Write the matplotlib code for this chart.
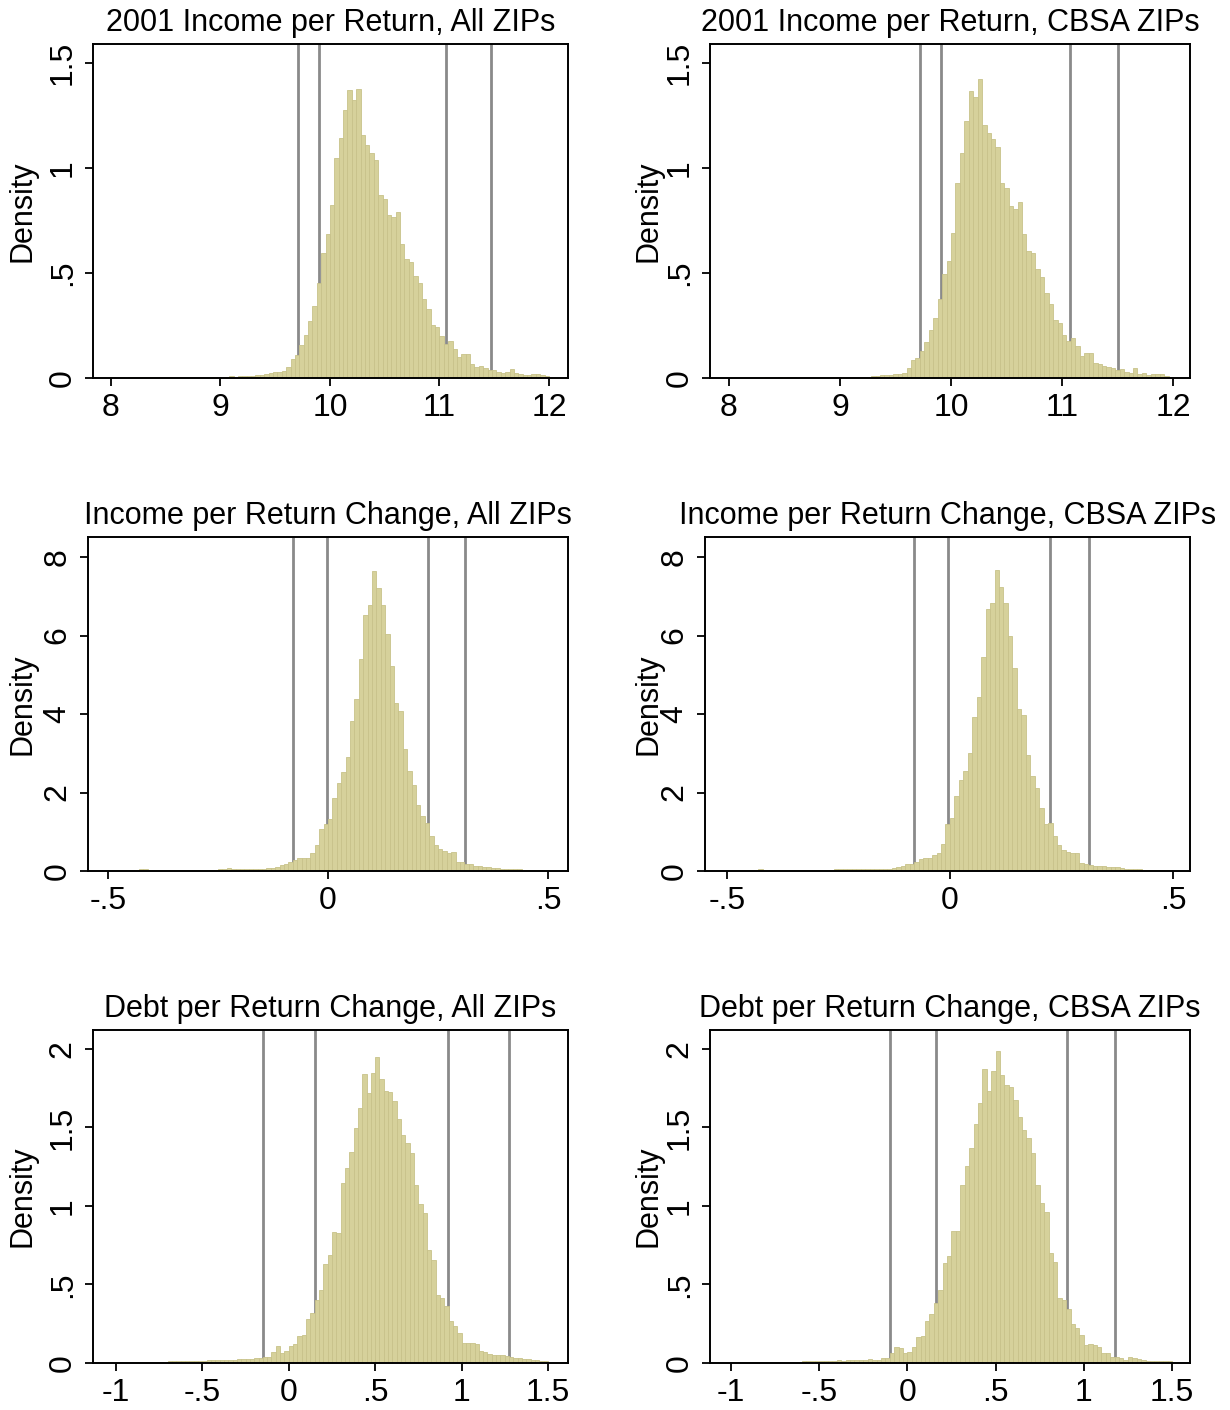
import numpy as np
import matplotlib
matplotlib.use('Agg')
import matplotlib.pyplot as plt

plt.rcParams['font.family'] = ['Liberation Sans', 'DejaVu Sans']

# ---- histogram heights (density) ----
# 2001 income per return (log), bins of 0.04 starting at 8.00
inc01_all = [
    0.003, 0.002, 0.003, 0.002, 0.003, 0.004, 0.003, 0.003, 0.004, 0.005,
    0.004, 0.003, 0.005, 0.004, 0.006, 0.004, 0.005, 0.006, 0.005, 0.004,
    0.006, 0.005, 0.006, 0.007, 0.006,
    0.006, 0.007, 0.008, 0.007, 0.009, 0.010, 0.011, 0.010, 0.013, 0.016,
    0.018, 0.022, 0.027, 0.030, 0.034,
    0.052, 0.092, 0.108, 0.156, 0.203, 0.271, 0.344, 0.452, 0.595, 0.687,
    0.825, 1.048, 1.143, 1.275, 1.370, 1.325, 1.375, 1.156, 1.111, 1.071,
    1.040, 0.873, 0.852, 0.775, 0.767, 0.790, 0.640, 0.568, 0.552, 0.484,
    0.452, 0.376, 0.329, 0.254, 0.243, 0.198, 0.163, 0.176, 0.140, 0.100,
    0.113, 0.116, 0.065, 0.052, 0.056, 0.046, 0.040, 0.036, 0.030, 0.024,
    0.028, 0.045, 0.022, 0.020, 0.016, 0.014, 0.018, 0.019, 0.016, 0.008,
]
inc01_cbsa = [
    0.001, 0.002, 0.001, 0.002, 0.002, 0.001, 0.002, 0.002, 0.003, 0.002,
    0.002, 0.003, 0.002, 0.003, 0.003, 0.002, 0.003, 0.004, 0.003, 0.003,
    0.004, 0.003, 0.004, 0.004, 0.004,
    0.004, 0.004, 0.005, 0.005, 0.006, 0.007, 0.007, 0.008, 0.010, 0.012,
    0.013, 0.015, 0.018, 0.020, 0.022,
    0.046, 0.086, 0.094, 0.130, 0.173, 0.229, 0.284, 0.375, 0.494, 0.557,
    0.692, 0.930, 1.073, 1.225, 1.368, 1.340, 1.422, 1.205, 1.168, 1.137,
    1.102, 0.927, 0.903, 0.819, 0.803, 0.840, 0.686, 0.606, 0.594, 0.517,
    0.483, 0.403, 0.351, 0.276, 0.260, 0.205, 0.176, 0.189, 0.152, 0.105,
    0.117, 0.121, 0.073, 0.067, 0.057, 0.051, 0.046, 0.038, 0.041, 0.030,
    0.025, 0.046, 0.019, 0.022, 0.014, 0.019, 0.019, 0.017, 0.010, 0.005,
]
# income per return change, bins of 0.01 starting at -0.50
chg_inc_all = [
    0.020, 0.015, 0.020, 0.015, 0.020, 0.020, 0.025, 0.040, 0.040, 0.020,
    0.015, 0.020, 0.015, 0.020, 0.020, 0.025, 0.020, 0.020, 0.025, 0.030,
    0.025, 0.030, 0.025, 0.030, 0.035, 0.040, 0.060, 0.065, 0.050, 0.060,
    0.050, 0.045, 0.050, 0.060, 0.055, 0.060, 0.070, 0.080,
    0.10, 0.15, 0.18, 0.24, 0.28, 0.32, 0.34, 0.34, 0.45, 0.66, 1.06, 1.20,
    1.32, 1.85, 2.23, 2.53, 2.91, 3.83, 4.37, 5.39, 6.51, 6.78,
    7.65, 7.20, 6.79, 6.04, 5.22, 4.27, 4.08, 3.10, 2.55, 2.19,
    1.68, 1.40, 1.23, 0.89, 0.66, 0.55, 0.52, 0.47, 0.48, 0.24,
    0.22, 0.18, 0.17, 0.13, 0.12, 0.10, 0.09, 0.08, 0.07, 0.06,
    0.05, 0.05, 0.04, 0.04, 0.03, 0.03, 0.025, 0.02, 0.02, 0.01,
]
chg_inc_cbsa = [
    0.015, 0.015, 0.020, 0.015, 0.015, 0.020, 0.020, 0.050, 0.030, 0.015,
    0.015, 0.015, 0.020, 0.015, 0.020, 0.020, 0.025, 0.020, 0.025, 0.025,
    0.030, 0.025, 0.030, 0.035, 0.040, 0.050, 0.060, 0.050, 0.045, 0.050,
    0.040, 0.045, 0.050, 0.050, 0.045, 0.050,
    0.06, 0.07, 0.11, 0.13, 0.17, 0.17, 0.24, 0.30, 0.32, 0.34, 0.41, 0.45, 0.68, 1.21,
    1.36, 1.91, 2.32, 2.55, 3.01, 3.92, 4.44, 5.46, 6.67, 6.84,
    7.67, 7.24, 6.82, 5.99, 5.16, 4.13, 3.97, 2.96, 2.42, 2.11,
    1.60, 1.21, 1.23, 0.90, 0.65, 0.54, 0.49, 0.47, 0.47, 0.21,
    0.18, 0.15, 0.14, 0.13, 0.12, 0.11, 0.10, 0.09, 0.07, 0.06,
    0.05, 0.05, 0.04, 0.03, 0.03, 0.025, 0.02, 0.02, 0.015, 0.01,
]
# debt per return change, bins of 0.025 starting at -1.00
chg_debt_all = [
    0.005, 0.006, 0.006, 0.007, 0.006, 0.007, 0.008, 0.007, 0.008, 0.008,
    0.009, 0.008, 0.010, 0.010, 0.011, 0.012, 0.011, 0.013, 0.014, 0.013,
    0.015, 0.016, 0.018, 0.017, 0.019, 0.020, 0.022, 0.021, 0.024, 0.023,
    0.026, 0.028,
    0.030, 0.030, 0.036, 0.040, 0.072, 0.108, 0.066, 0.079, 0.108, 0.121,
    0.172, 0.178, 0.278, 0.316, 0.401, 0.465, 0.631, 0.688, 0.837, 0.830,
    1.144, 1.240, 1.346, 1.495, 1.622, 1.839, 1.720, 1.845, 1.947, 1.807,
    1.732, 1.728, 1.665, 1.552, 1.452, 1.403, 1.335, 1.134, 1.011, 0.958,
    0.720, 0.656, 0.433, 0.412, 0.363, 0.268, 0.238, 0.193, 0.130, 0.125,
    0.125, 0.121, 0.079, 0.072, 0.055, 0.050, 0.050, 0.048, 0.045, 0.040,
    0.035, 0.030, 0.028, 0.025, 0.020, 0.018, 0.015, 0.012,
]
chg_debt_cbsa = [
    0.004, 0.005, 0.004, 0.005, 0.006, 0.005, 0.006, 0.006, 0.007, 0.006,
    0.007, 0.008, 0.007, 0.008, 0.009, 0.008, 0.010, 0.011, 0.012, 0.011,
    0.013, 0.014, 0.013, 0.015, 0.016, 0.015, 0.017, 0.019, 0.018, 0.020,
    0.022, 0.023,
    0.020, 0.022, 0.030, 0.034, 0.066, 0.100, 0.095, 0.062, 0.072, 0.100,
    0.163, 0.170, 0.270, 0.312, 0.384, 0.465, 0.635, 0.680, 0.840, 0.840,
    1.134, 1.255, 1.367, 1.520, 1.658, 1.870, 1.730, 1.860, 1.987,
    1.834, 1.771, 1.756, 1.675, 1.565, 1.484, 1.431, 1.335, 1.134, 1.021,
    0.964, 0.703, 0.645, 0.416, 0.401, 0.342, 0.246, 0.221, 0.178, 0.115,
    0.121, 0.115, 0.104, 0.066, 0.066, 0.040, 0.036, 0.030, 0.019, 0.036,
    0.030, 0.025, 0.020, 0.015, 0.015, 0.012, 0.011, 0.010, 0.010,
]

# percentile cut-off lines
cuts_inc01_all = [9.71, 9.90, 11.06, 11.47]
cuts_inc01_cbsa = [9.72, 9.91, 11.07, 11.50]
cuts_chg_inc_all = [-0.080, -0.003, 0.227, 0.311]
cuts_chg_inc_cbsa = [-0.081, -0.004, 0.224, 0.311]
cuts_chg_debt_all = [-0.149, 0.152, 0.921, 1.274]
cuts_chg_debt_cbsa = [-0.099, 0.162, 0.905, 1.177]

titles = [
    '2001 Income per Return, All ZIPs', '2001 Income per Return, CBSA ZIPs',
    'Income per Return Change, All ZIPs', 'Income per Return Change, CBSA ZIPs',
    'Debt per Return Change, All ZIPs', 'Debt per Return Change, CBSA ZIPs',
]

inc_ticks = [8, 9, 10, 11, 12]
inc_labels = ['8', '9', '10', '11', '12']
chg_ticks = [-0.5, 0, 0.5]
chg_labels = ['-.5', '0', '.5']
debt_ticks = [-1, -0.5, 0, 0.5, 1, 1.5]
debt_labels = ['-1', '-.5', '0', '.5', '1', '1.5']

y_inc = [0, 0.5, 1, 1.5]
y_inc_labels = ['0', '.5', '1', '1.5']
y_chg = [0, 2, 4, 6, 8]
y_chg_labels = ['0', '2', '4', '6', '8']
y_debt = [0, 0.5, 1, 1.5, 2]
y_debt_labels = ['0', '.5', '1', '1.5', '2']

W, H = 1230, 1410
fig = plt.figure(figsize=(W / 100, H / 100), dpi=100)

panels = [
    # heights, start, width, cuts, box(l, r, t, b), xlim, ylim, xt, xtl, yt, ytl, density x
    (inc01_all, 8.0, 0.04, cuts_inc01_all, (93, 568, 44, 378), (7.836, 12.174), 1.59,
     inc_ticks, inc_labels, y_inc, y_inc_labels, 22),
    (inc01_cbsa, 8.0, 0.04, cuts_inc01_cbsa, (710, 1190, 44, 378), (7.829, 12.153), 1.59,
     inc_ticks, inc_labels, y_inc, y_inc_labels, 648),
    (chg_inc_all, -0.5, 0.01, cuts_chg_inc_all, (88, 568, 537, 871), (-0.5455, 0.5455), 8.51,
     chg_ticks, chg_labels, y_chg, y_chg_labels, 22),
    (chg_inc_cbsa, -0.5, 0.01, cuts_chg_inc_cbsa, (705, 1190, 537, 871), (-0.549, 0.538), 8.51,
     chg_ticks, chg_labels, y_chg, y_chg_labels, 648),
    (chg_debt_all, -1.0, 0.025, cuts_chg_debt_all, (93, 568, 1030, 1363), (-1.133, 1.616), 2.12,
     debt_ticks, debt_labels, y_debt, y_debt_labels, 22),
    (chg_debt_cbsa, -1.0, 0.025, cuts_chg_debt_cbsa, (710, 1190, 1030, 1363), (-1.119, 1.602), 2.12,
     debt_ticks, debt_labels, y_debt, y_debt_labels, 648),
]

for title, p in zip(titles, panels):
    heights, start, width, cuts, box, xlim, ytop, xt, xtl, yt, ytl, dens_x = p
    l, r, t, b = box
    ax = fig.add_axes([l / W, 1 - b / H, (r - l) / W, (b - t) / H])
    left_edges = start + width * np.arange(len(heights))
    for c in cuts:
        ax.axvline(c, color='#8a8a8a', lw=2.0, zorder=1)
    ax.bar(left_edges, heights, width=width, align='edge',
           facecolor='#d6d19b', edgecolor='#c8c28a', linewidth=0.6, zorder=2)
    ax.set_xlim(*xlim)
    ax.set_ylim(0, ytop)
    ax.set_xticks(xt)
    ax.set_xticklabels(xtl)
    ax.set_yticks(yt)
    ax.set_yticklabels(ytl, rotation=90, va='center')
    ax.tick_params(direction='out', length=6, width=1.3, labelsize=23, color='black')
    ax.tick_params(axis='x', pad=5)
    ax.tick_params(axis='y', pad=5)
    for s in ax.spines.values():
        s.set_linewidth(1.4)
    ax.set_title(title, fontsize=22, pad=9)
    fig.text(dens_x / W, 1 - ((t + b) / 2) / H, 'Density', rotation=90,
             ha='center', va='center', fontsize=22)

fig.savefig('out.png', dpi=100)
